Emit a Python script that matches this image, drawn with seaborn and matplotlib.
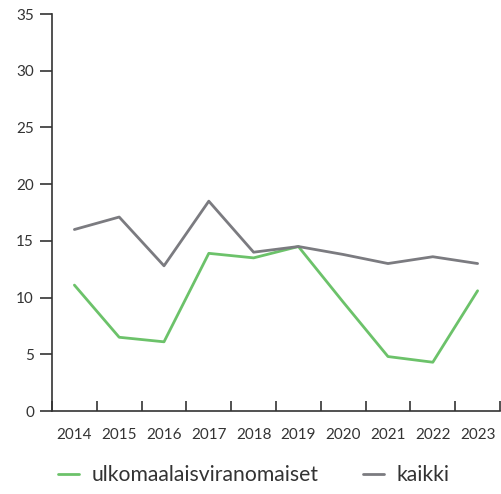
import numpy as np
import pandas as pd
import matplotlib.pyplot as plt
import seaborn as sns
from matplotlib.ticker import FixedLocator

years = [2014, 2015, 2016, 2017, 2018, 2019, 2020, 2021, 2022, 2023]
ulkomaalais = [11.1, 6.5, 6.1, 13.9, 13.5, 14.5, 9.6, 4.8, 4.3, 10.6]
kaikki = [16.0, 17.1, 12.8, 18.5, 14.0, 14.5, 13.8, 13.0, 13.6, 13.0]
series_names = ["ulkomaalaisviranomaiset", "kaikki"]

df = pd.DataFrame({
    "vuosi": years * 2,
    "arvo": ulkomaalais + kaikki,
    "sarja": [series_names[0]] * len(years) + [series_names[1]] * len(years),
})

sns.set_style("white")
plt.rcParams["font.family"] = ["Lato", "DejaVu Sans"]

fig = plt.figure(figsize=(5.02, 4.94), dpi=100)
ax = fig.add_axes([52 / 502, 1 - 411 / 494, 448 / 502, 397 / 494])

palette = {series_names[0]: "#6cc26a", series_names[1]: "#7b7b80"}
sns.lineplot(data=df, x="vuosi", y="arvo", hue="sarja", palette=palette,
             linewidth=2, ax=ax, legend=False)

ax.set_xlim(years[0] - 0.5, years[-1] + 0.5)
ax.set_ylim(0, 35)
ax.set_yticks(range(0, 36, 5))
ax.set_xticks(years)
ax.set_xticklabels([str(y) for y in years])
ax.xaxis.set_minor_locator(FixedLocator([y - 0.5 for y in years] + [years[-1] + 0.5]))
ax.set_xlabel("")
ax.set_ylabel("")

for s in ["top", "right"]:
    ax.spines[s].set_visible(False)
for s in ["left", "bottom"]:
    ax.spines[s].set_color("#333333")
    ax.spines[s].set_linewidth(1.2)

ax.tick_params(axis="y", which="major", direction="out", length=9, width=1.2,
               color="#333333", labelsize=11, labelcolor="#333333", pad=4, left=True)
ax.tick_params(axis="x", which="major", length=0, labelsize=11,
               labelcolor="#333333", pad=12)
ax.tick_params(axis="x", which="minor", direction="in", length=7, width=1.2,
               color="#333333", bottom=True)

handles = [plt.Line2D([], [], color=palette[n], linewidth=2) for n in series_names]
fig.legend(handles, series_names, loc="center", bbox_to_anchor=(0.505, 1 - 475 / 494),
           ncol=2, frameon=False, fontsize=15.2, handlelength=1.0, handletextpad=0.6,
           columnspacing=2.1, labelcolor="#333333")

fig.savefig("out.png", dpi=100)
